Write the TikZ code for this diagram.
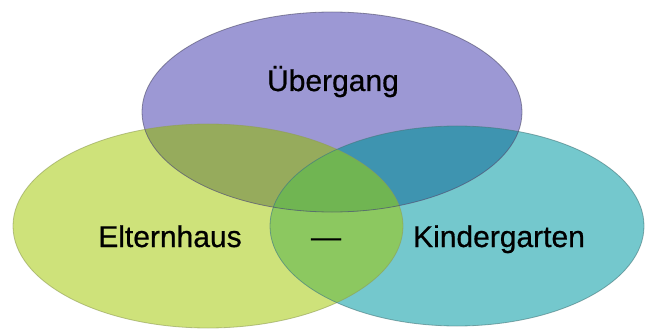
\documentclass[tikz,border=0pt]{standalone}
\usepackage{fontspec}
\setmainfont{Liberation Sans}[FakeBold=0.6]

% fill colours of the three sets and their overlaps
\definecolor{topfill}{RGB}{156,152,212}
\definecolor{leftfill}{RGB}{206,226,122}
\definecolor{rightfill}{RGB}{116,200,205}
\definecolor{topleft}{RGB}{150,171,92}
\definecolor{topright}{RGB}{62,148,176}
\definecolor{leftright}{RGB}{140,200,96}
\definecolor{allthree}{RGB}{112,181,82}

% the three ellipses (picture units are pixels)
\def\ellTop{(332,112) ellipse [x radius=190pt, y radius=100pt]}
\def\ellLeft{(208,226) ellipse [x radius=195pt, y radius=102pt]}
\def\ellRight{(457,226) ellipse [x radius=187pt, y radius=100pt]}

\begin{document}
\begin{tikzpicture}[x=1pt, y=-1pt,
    label/.style={font=\fontsize{30}{36}\selectfont, text=black, anchor=base, inner sep=0pt}]
    % Fix the page size
    \useasboundingbox[fill=white] (0,0) rectangle (646,329);

    % Fill the sets
    \fill[leftfill] \ellLeft;
    \fill[rightfill] \ellRight;
    \fill[topfill] \ellTop;

    % Fill the overlaps
    \begin{scope}
        \clip \ellLeft;
        \fill[leftright] \ellRight;
    \end{scope}
    \begin{scope}
        \clip \ellTop;
        \fill[topleft] \ellLeft;
        \fill[topright] \ellRight;
        \clip \ellLeft;
        \fill[allthree] \ellRight;
    \end{scope}

    % Outlines
    \draw[leftfill!70!black, line width=0.8pt, opacity=0.6] \ellLeft;
    \draw[rightfill!60!black, line width=0.8pt, opacity=0.6] \ellRight;
    \draw[topfill!50!black, line width=0.8pt, opacity=0.6] \ellTop;

    % Labels
    \node[label] (uebergang) at (333,91) {Übergang};
    \node[label] (elternhaus) at (170,247) {Elternhaus};
    \node[label] (strich) at (326,247) {—};
    \node[label] (kindergarten) at (499,247) {Kindergarten};
\end{tikzpicture}
\end{document}
